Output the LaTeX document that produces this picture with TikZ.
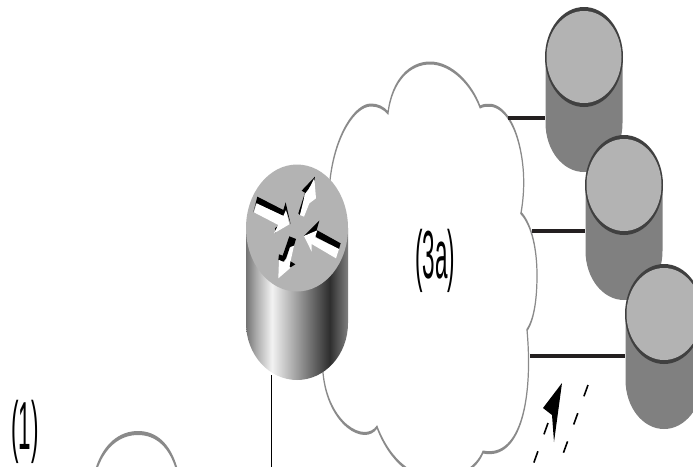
\documentclass[tikz,border=0pt]{standalone}
\usepackage{fontspec}
\setmainfont{Liberation Sans}
\usepackage{graphicx}
\usepackage{xcolor}
\usepackage{tikz}
\usetikzlibrary{arrows.meta, positioning, calc, shapes.geometric}
\definecolor{cloudgray}{HTML}{8A8A8A}
\definecolor{facegray}{HTML}{B3B3B3}
\definecolor{bodygray}{HTML}{808080}
\definecolor{rimgray}{HTML}{404040}
\definecolor{trunkblack}{HTML}{231F20}
\pgfdeclarehorizontalshading{routerbody}{100bp}{
    color(0bp)=(black!55); color(25bp)=(black!55); color(30bp)=(black!33);
    color(37.7bp)=(black!5); color(50bp)=(black!38); color(66bp)=(black!82);
    color(75bp)=(black!50); color(100bp)=(black!50)}
\tikzset{
    cloudline/.style={draw=cloudgray, line width=3pt},
    dbrim/.style={ellipse, fill=rimgray, inner sep=0pt, minimum width=78pt, minimum height=100pt},
    dbface/.style={ellipse, fill=facegray, inner sep=0pt, minimum width=75pt, minimum height=92pt},
    routerface/.style={ellipse, fill=facegray, inner sep=0pt, minimum width=102pt, minimum height=127pt},
    trunk/.style={draw=trunkblack, line width=3.6pt},
    drop/.style={draw=black, line width=1pt},
    flowdash/.style={draw=black, line width=1.6pt, dash pattern=on 12pt off 18pt},
    biglabel/.style={font=\fontsize{68}{72}\selectfont, inner sep=0pt}
}
\newcommand{\thinlabel}[1]{\scalebox{0.33}[1]{#1}}
% body and face of one server
\newcommand{\dbstack}[3]{
    \fill[bodygray] (#2-38.5, #3) -- (#2-38.5, #3+66) arc[start angle=180, end angle=360, x radius=38.5, y radius=-49]
        -- (#2+38.5, #3) -- cycle;
    \node[dbrim] (#1) at (#2, #3) {};
    \node[dbface] (#1face) at (#1) {};
}
\begin{document}
\begin{tikzpicture}[x=1pt, y=-1pt]
    \clip (0, 0) rectangle (693, 466);

    % ── Big cloud ────────────────────────────────────────────────────
    \begin{scope}[x=2.5pt, transform canvas={xscale=0.4}]
        \draw[cloudline, fill=white] (377, 427)
            .. controls (365, 445) and (328, 425) .. (323, 373)
            .. controls (318, 320) and (322, 230) .. (330, 180)
            .. controls (335, 135) and (355, 105) .. (371, 105)
            .. controls (378, 105) and (384, 108) .. (388, 113)
            .. controls (392, 80) and (410, 63) .. (430, 63)
            .. controls (452, 63) and (472, 85) .. (480, 107)
            .. controls (495, 100) and (510, 112) .. (518, 140)
            .. controls (525, 165) and (525, 190) .. (521, 213)
            .. controls (532, 225) and (537, 250) .. (537, 275)
            .. controls (537, 295) and (535, 318) .. (527, 330)
            .. controls (533, 395) and (522, 460) .. (483, 452)
            .. controls (470, 485) and (405, 500) .. (377, 427) -- cycle;

        % ── Small cloud, lower left ──────────────────────────────────
        \draw[cloudline, line width=4pt] (96, 470) .. controls (104, 445) and (120, 433) .. (138, 433)
            .. controls (156, 433) and (170, 445) .. (177, 470);
    \end{scope}
    \node[biglabel] (labelcloud) at (435, 261) {\thinlabel{(3a)}};
    \node[biglabel] (labelone) at (25, 432) {\thinlabel{(1)}};

    % ── Servers ──────────────────────────────────────────────────────
    \dbstack{dbA}{584}{57}
    \dbstack{dbB}{624}{185}
    \dbstack{dbC}{664}{314}

    \coordinate (trunkA) at (508, 118);
    \coordinate (trunkB) at (532, 231);
    \coordinate (trunkC) at (530, 356);
    \draw[trunk] (trunkA) -- (trunkA -| dbA.west);
    \draw[trunk] (trunkB) -- (trunkB -| dbB.west);
    \draw[trunk] (trunkC) -- (trunkC -| dbC.west);

    % ── Router ───────────────────────────────────────────────────────
    \coordinate (routerfoot) at (271, 375);
    \coordinate (routerexit) at (271, 470);
    \draw[drop] (routerfoot) -- (routerexit);
    \shade[shading=routerbody] (246, 228) -- (246, 323) arc[start angle=180, end angle=360, x radius=51, y radius=-57]
        -- (297+51, 228) -- cycle;
    \node[routerface] (router) at (297, 228) {};

    % arrows on the router face, in crop units
    \begin{scope}[shift={(230, 150)}, scale=0.3333]
        % upper left
        \fill[black] (82, 140) -- (160, 180) -- (167, 157) -- (182, 223) -- (170, 185) -- (162, 198) -- (78, 160) -- (70, 187) -- cycle;
        \fill[black] (135, 235) -- (141, 230) -- (137, 250) -- cycle;
        \fill[white] (72, 187) -- (80, 160) -- (160, 198) -- (168, 180) -- (178, 223) -- (132, 250) -- (145, 225) -- cycle;
        % upper right
        \fill[black] (255, 80) -- (215, 122) -- (225, 128) -- (205, 190) -- (210, 195) -- (225, 145) -- (222, 135) -- (255, 90) -- cycle;
        \fill[white] (210, 195) -- (222, 200) -- (238, 160) -- (258, 145) -- (253, 85) -- (235, 120) -- (225, 132) -- cycle;
        % right
        \fill[black] (222, 258) -- (268, 212) -- (260, 240) -- (332, 280) -- (327, 297) -- (260, 262) -- (250, 250) -- cycle;
        \fill[white] (222, 258) -- (245, 305) -- (245, 282) -- (318, 325) -- (327, 297) -- (255, 262) -- (262, 241) -- cycle;
        % lower left
        \fill[black] (178, 259) -- (198, 267) -- (192, 287) -- (180, 291) -- (168, 325) -- (160, 335) -- (145, 330) -- (147, 313) -- (158, 317) -- cycle;
        \fill[black] (180, 333) -- (196, 343) -- (180, 353) -- cycle;
        \fill[white] (180, 293) -- (192, 287) -- (178, 350) -- (182, 353) -- (145, 385) -- (147, 330) -- (162, 337) -- (170, 325) -- cycle;
    \end{scope}

    % ── Flow mark ────────────────────────────────────────────────────
    \coordinate (dashAstart) at (588, 385);
    \coordinate (dashAend) at (563, 454);
    \coordinate (dashBstart) at (548, 423);
    \coordinate (dashBend) at (533, 465);
    \draw[flowdash] (dashAstart) -- (dashAend);
    \draw[flowdash] (dashBstart) -- (dashBend);
    \fill[black] (562, 383) -- (543, 408) -- (552, 415) -- (554, 442) -- cycle;
\end{tikzpicture}
\end{document}
